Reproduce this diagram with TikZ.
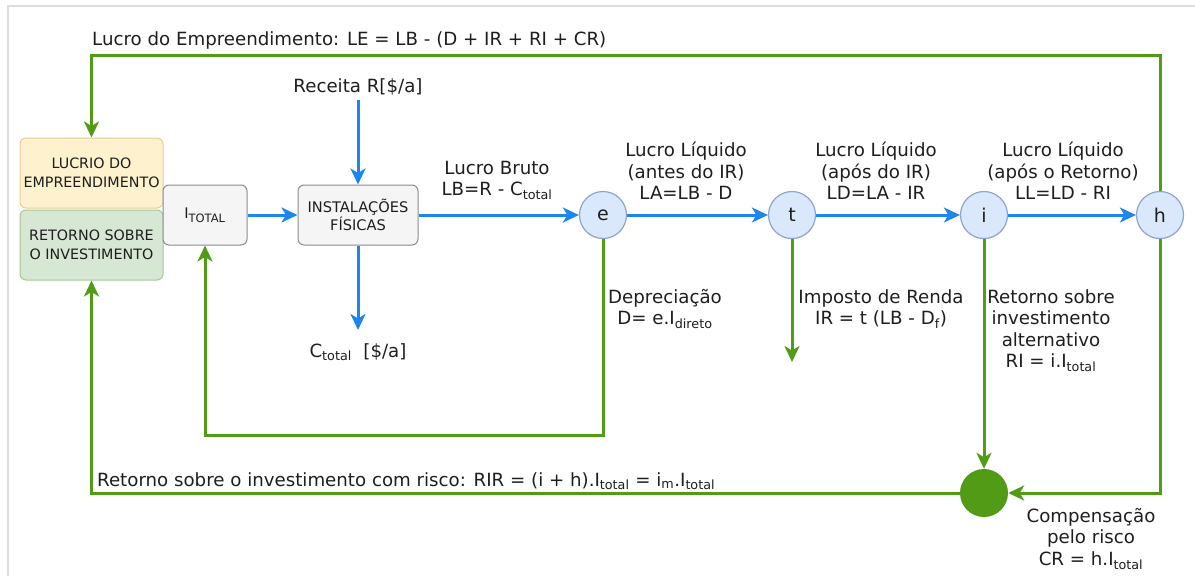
\documentclass[tikz,border=0pt]{standalone}
\usepackage{fontspec}
\setmainfont{DejaVu Sans}
\usetikzlibrary{arrows.meta}

\definecolor{flowblue}{RGB}{28,134,238}
\definecolor{loopgreen}{RGB}{82,155,22}
\definecolor{stagefill}{RGB}{218,232,252}
\definecolor{stageedge}{RGB}{140,165,205}
\definecolor{boxgray}{RGB}{245,245,245}
\definecolor{boxgrayedge}{RGB}{140,140,140}
\definecolor{yelfill}{RGB}{253,241,206}
\definecolor{yeledge}{RGB}{226,206,150}
\definecolor{grnfill}{RGB}{214,231,211}
\definecolor{grnedge}{RGB}{165,198,152}
\definecolor{txt}{RGB}{30,30,30}
\definecolor{frame}{RGB}{222,222,222}

\tikzset{
  tip/.style={-{Stealth[length=16pt,width=15pt,inset=4.5pt]}},
  blueflow/.style={draw=flowblue, line width=3pt, tip},
  greenflow/.style={draw=loopgreen, line width=3pt, tip},
  stage/.style={circle, draw=stageedge, fill=stagefill, line width=1.2pt,
    minimum size=47pt, inner sep=0pt, text=txt, font=\fontsize{19}{21}\selectfont},
  graybox/.style={rectangle, rounded corners=6pt, draw=boxgrayedge, fill=boxgray,
    line width=1pt, inner sep=2pt, align=center, text=txt, font=\fontsize{14.6}{18}\selectfont},
  sidebox/.style={rectangle, rounded corners=6pt, line width=1pt, minimum width=143pt,
    minimum height=70pt, inner sep=2pt, align=center, text=txt, font=\fontsize{14.3}{19}\selectfont},
  lbl/.style={align=center, inner sep=0pt, text=txt},
}

\begin{document}
\begin{tikzpicture}[x=1pt, y=-1pt, font=\fontsize{18.2}{21.5}\selectfont]
\useasboundingbox (0,0) rectangle (1195,576);

% light frame
\draw[frame, line width=1.5pt] (8,576) -- (8,6) -- (1195,6);

% helper coordinates
\coordinate (topy)   at (0,55);
\coordinate (loopy)  at (0,435);
\coordinate (rstart) at (358,100);
\coordinate (cend)   at (358,330);
\coordinate (tend)   at (792,362);

% side boxes
\node[sidebox, draw=yeledge, fill=yelfill] (yel) at (91.5,173) {LUCRIO DO\\EMPREENDIMENTO};
\node[sidebox, draw=grnedge, fill=grnfill] (grn) at (91.5,245) {RETORNO SOBRE\\O INVESTIMENTO};

% process boxes
\node[graybox, minimum width=84pt, minimum height=60pt] (itot) at (205,215)
  {I\textsubscript{\fontsize{11.5}{12}\selectfont TOTAL}};
\node[graybox, minimum width=120pt, minimum height=60pt] (inst) at (358,215)
  {INSTALAÇÕES\\FÍSICAS};

% stage circles
\node[stage] (e) at (603,215) {e};
\node[stage] (t) at (792,215) {t};
\node[stage] (i) at (984,215) {i};
\node[stage] (h) at (1160,215) {h};

% risk sum
\node[circle, fill=loopgreen, minimum size=48pt, inner sep=0pt] (gc) at (984,493) {};

% texts
\node[lbl, anchor=base west] (ttl) at (92,45)
  {Lucro do Empreendimento: LE = LB - (D + IR + RI + CR)};
\node[lbl, anchor=base] (rec) at (358,92) {Receita R[\$/a]};
\node[lbl, anchor=base] (ctl) at (358,357) {C\textsubscript{total}\ \ [\$/a]};

\node[lbl, anchor=south] (lb) at (497,200) {Lucro Bruto\\LB=R - C\textsubscript{total}};
\node[lbl, anchor=south] (la) at (686,200) {Lucro Líquido\\(antes do IR)\\LA=LB - D};
\node[lbl, anchor=south] (ld) at (876,200) {Lucro Líquido\\(após do IR)\\LD=LA - IR};
\node[lbl, anchor=south] (ll) at (1063,200) {Lucro Líquido\\(após o Retorno)\\LL=LD - RI};

\node[lbl, anchor=north] (dep) at (665,289) {Depreciação\\D= e.I\textsubscript{direto}};
\node[lbl, anchor=north] (imp) at (881,289) {Imposto de Renda\\IR = t (LB - D\textsubscript{f})};
\node[lbl, anchor=north] (ria) at (1051,289) {Retorno sobre\\investimento\\alternativo\\RI = i.I\textsubscript{total}};
\node[lbl, anchor=north] (crl) at (1091,508) {Compensação\\pelo risco\\CR = h.I\textsubscript{total}};
\node[lbl, anchor=base west] (rir) at (97,486)
  {Retorno sobre o investimento com risco: RIR = (i + h).I\textsubscript{total} = i\textsubscript{m}.I\textsubscript{total}};

% blue flow
\draw[blueflow] (rstart) -- (inst.north);
\draw[blueflow] (inst.south) -- (cend);
\draw[blueflow] (itot.east) -- (inst.west);
\draw[blueflow] (inst.east) -- (e.west);
\draw[blueflow] (e.east) -- (t.west);
\draw[blueflow] (t.east) -- (i.west);
\draw[blueflow] (i.east) -- (h.west);

% green loops
\draw[greenflow] (h.north) -- (h.north |- topy) -| (yel.north);
\draw[greenflow] (e.south) -- (e.south |- loopy) -| (itot.south);
\draw[greenflow] (t.south) -- (tend);
\draw[greenflow] (i.south) -- (gc.north);
\draw[greenflow] (h.south) |- (gc.east);
\draw[greenflow] (gc.west) -| (grn.south);
\end{tikzpicture}
\end{document}
